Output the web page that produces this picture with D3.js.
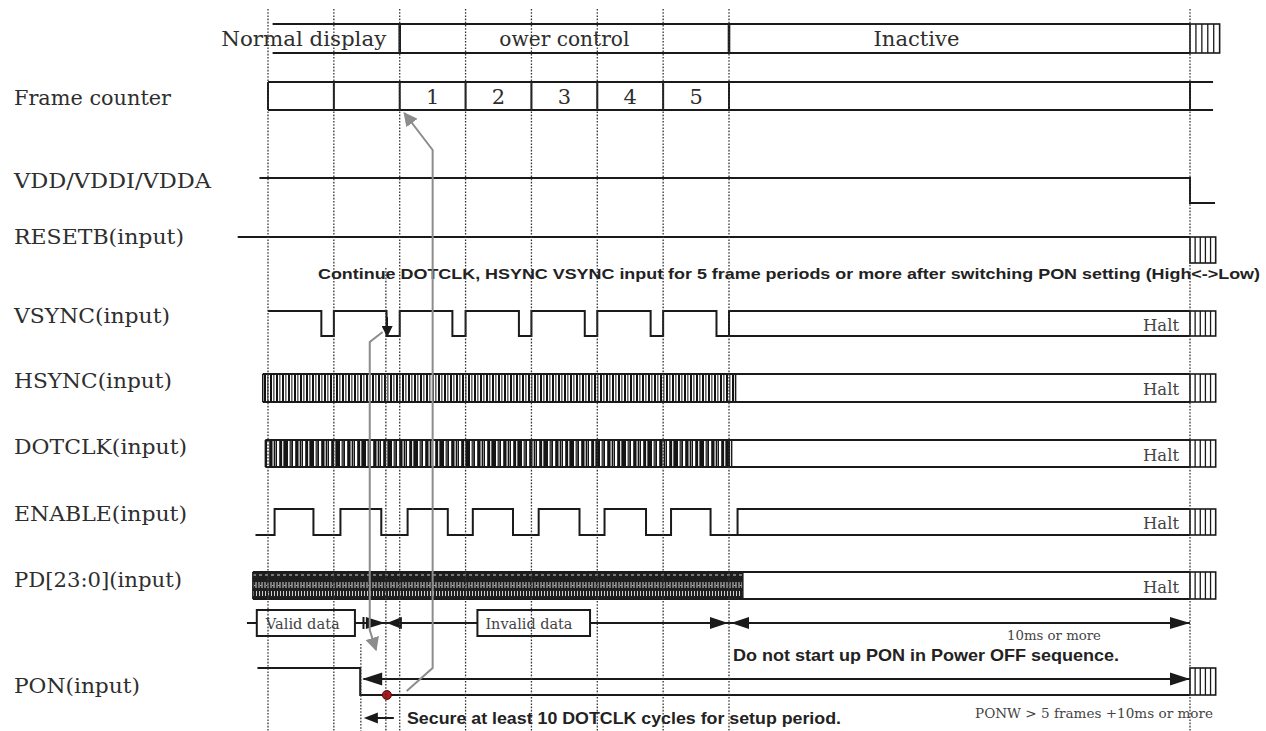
<!DOCTYPE html>
<html><head><meta charset="utf-8">
<script src="https://cdn.jsdelivr.net/npm/d3@7"></script>
<style>html,body{margin:0;padding:0;background:#fff;overflow:hidden}svg{display:block}</style>
</head><body><svg id="c" width="1266" height="731"></svg>
<script>
// ---------------- DATA (time in frame periods, 0 = start of power-off control) ----------------
const signalLabels = ["Frame counter","VDD/VDDI/VDDA","RESETB(input)","VSYNC(input)","HSYNC(input)","DOTCLK(input)","ENABLE(input)","PD[23:0](input)","PON(input)"];
const phaseNames = ["Normal display","ower control","Inactive"];
const phaseBounds = [-2, 0, 5, 12];
const frameBounds = [-2, -1, 0, 1, 2, 3, 4, 5, 12];
const frameLabels = ["", "", "1", "2", "3", "4", "5", ""];
const guideTimes = [-2, -1, 0, 1, 2, 3, 4, 5, 12];
const vsyncLow = [[-1.19,-1],[-0.2,0],[0.8,1],[1.81,2],[2.81,3],[3.81,4],[4.81,5]];
const enableHigh = [[-1.9,-1.31],[-0.9,-0.28],[0.12,0.73],[1.11,1.72],[2.11,2.73],[3.11,3.74],[4.12,4.72]];
const hsyncActive = [-2.08, 5.1];
const dotclkActive = [-2.04, 5.04];
const pdActive = [-2.23, 5.21];
const enableStart = -2.19, enableHaltStart = 5.13, vsyncHaltStart = 5;
const inactiveEnd = 12, hatchEnd = 12.39;
const vddStart = -2.13, resetStart = -2.46, ponStart = -2.16, ponFall = -0.6;
const validBox = [-2.17, -0.68], invalidBox = [1.18, 2.89];
const setupMark = -0.21;     // PON setup guide (VSYNC edge)
const ponGuide = -0.59;
const haltLabel = "Halt";
const noteTexts = ["Continue DOTCLK, HSYNC VSYNC input for 5 frame periods or more after switching PON setting (High<->Low)",
  "Do not start up PON in Power OFF sequence.",
  "Secure at least 10 DOTCLK cycles for setup period.",
  "10ms or more", "PONW > 5 frames +10ms or more", "Valid data", "Invalid data"];

// ---------------- LAYOUT ----------------
const svg = d3.select("#c");
const x = d3.scaleLinear().domain([-2, 12]).range([268, 1190]);
const L = {
  phase:{top:24, bot:53, cy:39}, frame:{top:82, bot:110, cy:97},
  vdd:{hi:178, lo:203}, reset:{y:237, bot:263}, note:{y:273},
  vsync:{hi:311, lo:336}, hsync:{top:374, bot:402}, dotclk:{top:440, bot:467},
  enable:{hi:509, lo:535}, pd:{top:572, bot:599},
  data:{y:623, top:610, bot:636}, pon:{hi:668, arr:679, lo:695}
};
const labelY = [98, 181, 237, 316, 381, 447, 514, 580, 686];
const labelW = [157, 197, 170, 156, 158, 173, 173, 168, 126];
const INK = "#1a1a1a", TXT = "#2e2e2e";
const serif = "'DejaVu Serif', 'Liberation Serif', serif";
const sans = "'Liberation Sans', Arial, sans-serif";

const defs = svg.append("defs");
// HSYNC stripes
const ph = defs.append("pattern").attr("id","hs").attr("patternUnits","userSpaceOnUse").attr("width",6).attr("height",10);
ph.append("rect").attr("width",6).attr("height",10).attr("fill","#fff");
ph.append("rect").attr("x",0).attr("width",2).attr("height",10).attr("fill","#111");
ph.append("rect").attr("x",3).attr("width",1.6).attr("height",10).attr("fill","#6a6a6a");
// DOTCLK stripes
const pdc = defs.append("pattern").attr("id","dc").attr("patternUnits","userSpaceOnUse").attr("width",26).attr("height",10);
pdc.append("rect").attr("width",26).attr("height",10).attr("fill","#141414");
[[2,1.6,"#fff"],[7,2.2,"#fff"],[12.5,1.2,"#eee"],[17,2.2,"#fff"],[22,1.4,"#ddd"],[4.5,1,"#777"],[15,1,"#888"]]
  .forEach(([px,w,c]) => pdc.append("rect").attr("x",px).attr("width",w).attr("height",10).attr("fill",c));
// PD bus texture
const pp = defs.append("pattern").attr("id","pdp").attr("patternUnits","userSpaceOnUse").attr("width",6).attr("height",27).attr("y",L.pd.top);
pp.append("rect").attr("width",6).attr("height",27).attr("fill","#1e1e1e");
[[1,2.5,3,1],[0.5,10,1,6],[3.5,10,1,6],[1,19,1,5],[4,19,1,5],[2.2,13,1.2,1]].forEach(([a,b,w,h]) =>
  pp.append("rect").attr("x",a).attr("y",b).attr("width",w).attr("height",h).attr("fill","#cfcfcf"));
// markers
function marker(id, color, size){
  defs.append("marker").attr("id",id).attr("viewBox","0 0 10 10").attr("refX",9).attr("refY",5)
    .attr("markerUnits","userSpaceOnUse").attr("markerWidth",size).attr("markerHeight",size).attr("orient","auto")
    .append("path").attr("d","M0,0L10,5L0,10Z").attr("fill",color);
}
marker("ag","#8c8c8c",14); marker("ab",INK,11);

const g = svg.append("g");
const line = d3.line().x(d => x(d[0])).y(d => d[1]);
function path(pts, w=2, color=INK){ return g.append("path").attr("d", line(pts)).attr("fill","none").attr("stroke",color).attr("stroke-width",w); }
function hatch(y0, y1, end=hatchEnd){
  g.append("rect").attr("x",x(inactiveEnd)).attr("y",y0).attr("width",x(end)-x(inactiveEnd)).attr("height",y1-y0)
    .attr("fill","#fff").attr("stroke",INK).attr("stroke-width",1.6);
  const n = 5, step = (x(end)-x(inactiveEnd))/n;
  d3.range(1,n).forEach(i => g.append("line").attr("x1",x(inactiveEnd)+i*step).attr("x2",x(inactiveEnd)+i*step)
    .attr("y1",y0).attr("y2",y1).attr("stroke",INK).attr("stroke-width",1.3));
}
function tri(tx, ty, dir, len=18, half=6){
  g.append("path").attr("d",`M${tx},${ty}L${tx-dir*len},${ty-half}L${tx-dir*len},${ty+half}Z`).attr("fill",INK);
}

// ---------------- LABELS ----------------
signalLabels.forEach((s,i) => g.append("text").attr("x",14).attr("y",labelY[i]).attr("dominant-baseline","central")
  .attr("font-family",serif).attr("font-size",21).attr("fill",TXT)
  .attr("textLength",labelW[i]).attr("lengthAdjust","spacingAndGlyphs").text(s));

// ---------------- PHASE ROW ----------------
path([[-1.93,L.phase.top],[inactiveEnd,L.phase.top]]);
path([[-1.93,L.phase.bot],[inactiveEnd,L.phase.bot]]);
[phaseBounds[1], phaseBounds[2]].forEach(t => path([[t,L.phase.top],[t,L.phase.bot]],2.6));
hatch(L.phase.top, L.phase.bot, 12.45);
const phaseX = [x(phaseBounds[1]) - 96, (x(phaseBounds[1])+x(phaseBounds[2]))/2, (x(phaseBounds[2])+x(phaseBounds[3]))/2 - 43];
const phaseW = [165, 130, 86];
phaseNames.forEach((s,i) => g.append("text").attr("x",phaseX[i]).attr("y",L.phase.cy).attr("text-anchor","middle")
  .attr("dominant-baseline","central").attr("font-family",serif).attr("font-size",21).attr("fill",TXT)
  .attr("textLength",phaseW[i]).attr("lengthAdjust","spacingAndGlyphs").text(s));

// ---------------- FRAME COUNTER ----------------
path([[-2,L.frame.top],[12.35,L.frame.top]]);
path([[-2,L.frame.bot],[12.35,L.frame.bot]]);
frameBounds.forEach(t => path([[t,L.frame.top],[t,L.frame.bot]],2));
frameLabels.forEach((s,i) => { if(!s) return;
  g.append("text").attr("x",(x(frameBounds[i])+x(frameBounds[i+1]))/2).attr("y",L.frame.cy).attr("text-anchor","middle")
   .attr("dominant-baseline","central").attr("font-family",serif).attr("font-size",21).attr("fill",TXT).text(s); });

// ---------------- VDD / RESETB ----------------
path([[vddStart,L.vdd.hi],[inactiveEnd,L.vdd.hi],[inactiveEnd,L.vdd.lo],[12.38,L.vdd.lo]]);
path([[resetStart,L.reset.y],[inactiveEnd,L.reset.y]]);
hatch(L.reset.y, L.reset.bot);

// ---------------- VSYNC ----------------
const vs = [[-2,L.vsync.hi]];
vsyncLow.forEach(([a,b]) => vs.push([a,L.vsync.hi],[a,L.vsync.lo],[b,L.vsync.lo],[b,L.vsync.hi]));
vs.push([inactiveEnd,L.vsync.hi]);
path(vs);
path([[vsyncHaltStart,L.vsync.lo],[inactiveEnd,L.vsync.lo]]);
hatch(L.vsync.hi, L.vsync.lo);

// ---------------- HSYNC / DOTCLK / PD bands ----------------
function band(span, y0, y1, fill){
  g.append("rect").attr("x",x(span[0])).attr("y",y0).attr("width",x(span[1])-x(span[0])).attr("height",y1-y0).attr("fill",fill);
  path([[span[0],y0],[inactiveEnd,y0]]); path([[span[0],y1],[inactiveEnd,y1]]);
  path([[span[0],y0],[span[0],y1]],1.5); path([[span[1],y0],[span[1],y1]],1.5);
  hatch(y0, y1);
}
band(hsyncActive, L.hsync.top, L.hsync.bot, "url(#hs)");
band(dotclkActive, L.dotclk.top, L.dotclk.bot, "url(#dc)");
band(pdActive, L.pd.top, L.pd.bot, "url(#pdp)");

// ---------------- ENABLE ----------------
const en = [[enableStart,L.enable.lo]];
enableHigh.forEach(([a,b]) => en.push([a,L.enable.lo],[a,L.enable.hi],[b,L.enable.hi],[b,L.enable.lo]));
en.push([enableHaltStart,L.enable.lo],[enableHaltStart,L.enable.hi],[inactiveEnd,L.enable.hi]);
path(en);
path([[enableHaltStart,L.enable.lo],[inactiveEnd,L.enable.lo]]);
hatch(L.enable.hi, L.enable.lo);

// Halt labels
[[L.vsync.hi,L.vsync.lo],[L.hsync.top,L.hsync.bot],[L.dotclk.top,L.dotclk.bot],[L.enable.hi,L.enable.lo],[L.pd.top,L.pd.bot]]
 .forEach(([a,b]) => g.append("text").attr("x",x(inactiveEnd)-11).attr("y",(a+b)/2+1).attr("text-anchor","end")
   .attr("dominant-baseline","central").attr("font-family",serif).attr("font-size",17).attr("fill","#444")
   .attr("textLength",36).attr("lengthAdjust","spacingAndGlyphs").text(haltLabel));

// ---------------- DATA ROW ----------------
const dy = L.data.y;
path([[-2.32,dy],[inactiveEnd,dy]], 2);
[validBox, invalidBox].forEach((b,i) => {
  g.append("rect").attr("x",x(b[0])).attr("y",L.data.top).attr("width",x(b[1])-x(b[0])).attr("height",L.data.bot-L.data.top)
   .attr("fill","#fff").attr("stroke",INK).attr("stroke-width",2);
  g.append("text").attr("x",x(b[0])+(i?8:9)).attr("y",dy+1).attr("dominant-baseline","central")
   .attr("font-family",serif).attr("font-size",15).attr("fill","#444")
   .attr("textLength",i?87:74).attr("lengthAdjust","spacingAndGlyphs").text(noteTexts[5+i]);
});
path([[ponGuide+0.04,dy-6],[ponGuide+0.04,dy+6]],2);
tri(x(setupMark)-1, dy, 1, 19, 6); tri(x(setupMark)+1, dy, -1, 15, 6);
path([[0,dy-6],[0,dy+6]],1.5);
tri(x(5)-1, dy, 1, 18, 6); tri(x(5)+2, dy, -1, 18, 6);
tri(x(inactiveEnd), dy, 1, 20, 6);
g.append("text").attr("x",1054).attr("y",635).attr("text-anchor","middle").attr("dominant-baseline","central")
 .attr("font-family",serif).attr("font-size",13).attr("fill","#444").attr("textLength",94).attr("lengthAdjust","spacingAndGlyphs").text(noteTexts[3]);

// ---------------- PON ----------------
path([[ponStart,L.pon.hi],[ponFall,L.pon.hi],[ponFall,L.pon.lo],[inactiveEnd,L.pon.lo]]);
path([[ponFall+0.05,L.pon.arr],[inactiveEnd,L.pon.arr]],2);
tri(x(ponFall)+2, L.pon.arr, -1, 20, 6.5);
tri(x(inactiveEnd), L.pon.arr, 1, 20, 6.5);
hatch(L.pon.hi, L.pon.lo);
g.append("circle").attr("cx",x(setupMark)+1).attr("cy",L.pon.lo).attr("r",4.5).attr("fill","#b0141c").attr("stroke","#5a0a0a").attr("stroke-width",1);

// setup arrow
tri(x(ponGuide)+3, 718, -1, 14, 5.5);
g.append("line").attr("x1",x(ponGuide)+12).attr("x2",x(ponGuide)+33).attr("y1",718).attr("y2",718).attr("stroke",INK).attr("stroke-width",2);

// ---------------- NOTES ----------------
function note(s, x0, y, w, size, fam, weight, fill){
  g.append("text").attr("x",x0).attr("y",y).attr("dominant-baseline","central").attr("font-family",fam)
   .attr("font-size",size).attr("font-weight",weight).attr("fill",fill)
   .attr("textLength",w).attr("lengthAdjust","spacingAndGlyphs").text(s);
}
note(noteTexts[0], 318, L.note.y, 942, 15.5, sans, 700, "#222");
note(noteTexts[1], 733, 655, 386, 17, sans, 700, "#222");
note(noteTexts[2], 407, 718, 434, 16, sans, 700, "#222");
note(noteTexts[4], 975, 713, 238, 13, serif, 400, "#444");

// ---------------- GUIDES (dotted) ----------------
const gg = svg.append("g").attr("stroke","#333").attr("stroke-width",1.3).attr("stroke-dasharray","1.6,1.6");
guideTimes.forEach(t => gg.append("line").attr("x1",x(t)).attr("x2",x(t)).attr("y1",9).attr("y2",731));
gg.append("line").attr("x1",x(setupMark)).attr("x2",x(setupMark)).attr("y1",268).attr("y2",731);
gg.append("line").attr("x1",x(ponGuide)).attr("x2",x(ponGuide)).attr("y1",644).attr("y2",731);

// ---------------- ANNOTATION ARROWS ----------------
const ga = svg.append("g").attr("fill","none");
ga.append("path").attr("d", line([[-0.26,332],[-0.455,342],[-0.455,630],[-0.36,650]]))
  .attr("stroke","#8c8c8c").attr("stroke-width",2).attr("marker-end","url(#ag)");
ga.append("path").attr("d", line([[0.106,691],[0.5,668],[0.5,150],[0.07,113]]))
  .attr("stroke","#8c8c8c").attr("stroke-width",2).attr("marker-end","url(#ag)");
ga.append("path").attr("d", line([[setupMark+0.02,317],[setupMark+0.02,336]]))
  .attr("stroke",INK).attr("stroke-width",1.6).attr("marker-end","url(#ab)");
</script></body></html>
